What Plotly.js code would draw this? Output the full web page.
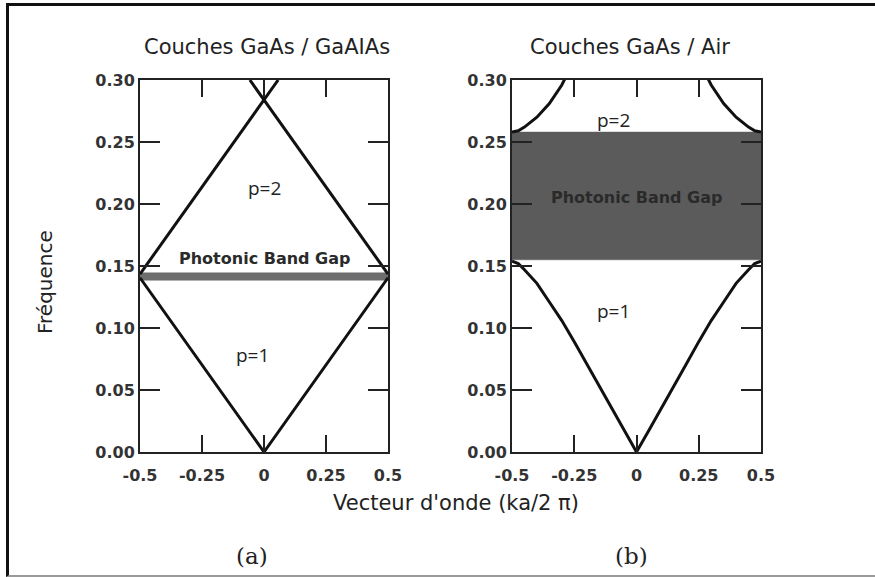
<!DOCTYPE html>
<html>
<head>
<meta charset="utf-8">
<script src="https://cdn.plot.ly/plotly-3.0.1.min.js"></script>
<style>
html,body{margin:0;padding:0;background:#fff;overflow:hidden;}
#wrap{position:relative;width:875px;height:577px;}
#chart{position:absolute;left:0;top:0;width:875px;height:577px;}
#frame{position:absolute;left:6px;top:3px;right:-5px;bottom:0px;border-top:3px solid #111;border-left:3px solid #111;border-bottom:2px solid #9a9a9a;pointer-events:none;}
</style>
</head>
<body>
<div id="wrap"><div id="chart"></div><div id="frame"></div></div>
<script>
// ---- data ----
const kRange = [-0.5, 0.5];
const xTicks = [-0.5, -0.25, 0, 0.25, 0.5];
const xTickText = ["-0.5", "-0.25", "0", "0.25", "0.5"];
const yTicks = [0, 0.05, 0.10, 0.15, 0.20, 0.25, 0.30];
const yTickText = ["0.00", "0.05", "0.10", "0.15", "0.20", "0.25", "0.30"];

// (a) GaAs / GaAlAs
const aBand1K = [-0.5, 0, 0.5];
const aBand1F = [0.1405, 0, 0.1405];
const aBand2LeftK = [-0.5, 0.057];
const aBand2LeftF = [0.1435, 0.30];
const aBand2RightK = [0.5, -0.057];
const aBand2RightF = [0.1435, 0.30];
const aGap = [0.1385, 0.1445];

// (b) GaAs / Air
const bBand1K = [-0.5, -0.475, -0.45, -0.4, -0.35, -0.3, -0.25, -0.2, -0.15, -0.1, -0.05, 0,
                 0.05, 0.1, 0.15, 0.2, 0.25, 0.3, 0.35, 0.4, 0.45, 0.475, 0.5];
const bBand1F = [0.154, 0.152, 0.147, 0.136, 0.121, 0.106, 0.089, 0.071, 0.053, 0.035, 0.0175, 0,
                 0.0175, 0.035, 0.053, 0.071, 0.089, 0.106, 0.121, 0.136, 0.147, 0.152, 0.154];
const bBand2LeftK = [-0.5, -0.475, -0.45, -0.4, -0.35, -0.3, -0.285];
const bBand2LeftF = [0.258, 0.259, 0.262, 0.270, 0.281, 0.296, 0.302];
const bBand2RightK = [0.5, 0.475, 0.45, 0.4, 0.35, 0.3, 0.285];
const bBand2RightF = [0.258, 0.259, 0.262, 0.270, 0.281, 0.296, 0.302];
const bGap = [0.155, 0.258];

const titleA = "Couches GaAs / GaAIAs";
const titleB = "Couches GaAs / Air";
const yTitle = "Fréquence";
const xTitle = "Vecteur d'onde (ka/2 π)";

// ---- drawing ----
const W = 875, H = 577;
const px = v => v / W;
const py = v => 1 - v / H;
const lineStyle = {color: '#111', width: 3};

function gapTrace(gap, xa, ya, color) {
  return {x: [kRange[0], kRange[1], kRange[1], kRange[0], kRange[0]],
          y: [gap[0], gap[0], gap[1], gap[1], gap[0]],
          xaxis: xa, yaxis: ya, mode: 'lines', fill: 'toself',
          fillcolor: color, line: {width: 0.5, color: color}, hoverinfo: 'skip'};
}
function band(k, f, xa, ya) {
  return {x: k, y: f, xaxis: xa, yaxis: ya, mode: 'lines', line: lineStyle, hoverinfo: 'skip'};
}

const traces = [
  gapTrace(aGap, 'x', 'y', '#6e6e6e'),
  band(aBand1K, aBand1F, 'x', 'y'),
  band(aBand2LeftK, aBand2LeftF, 'x', 'y'),
  band(aBand2RightK, aBand2RightF, 'x', 'y'),
  gapTrace(bGap, 'x2', 'y2', '#5b5b5b'),
  band(bBand1K, bBand1F, 'x2', 'y2'),
  band(bBand2LeftK, bBand2LeftF, 'x2', 'y2'),
  band(bBand2RightK, bBand2RightF, 'x2', 'y2')
];

const tickFont = {family: 'DejaVu Sans', size: 16, color: '#333', weight: 'bold'};
function xAxis(domain, anchor) {
  return {domain: domain, anchor: anchor, range: kRange, tickvals: xTicks, ticktext: xTickText,
          ticks: 'inside', ticklen: 17, tickwidth: 2, tickcolor: '#222', mirror: 'ticks',
          showline: true, linecolor: '#222', linewidth: 2, showgrid: false, zeroline: false,
          tickfont: tickFont, ticklabelstandoff: 8, fixedrange: true};
}
function yAxis(domain, anchor) {
  return {domain: domain, anchor: anchor, range: [0, 0.30], tickvals: yTicks, ticktext: yTickText,
          ticks: 'inside', ticklen: 20, tickwidth: 2, tickcolor: '#222', mirror: 'ticks',
          showline: true, linecolor: '#222', linewidth: 2, showgrid: false, zeroline: false,
          tickfont: tickFont, ticklabelstandoff: 0, fixedrange: true};
}

const pFont = {family: 'Open Sans', size: 19, color: '#222'};
const gapFont = {family: 'DejaVu Sans', size: 16, color: '#2a2a2a', weight: 'bold'};
const titleFont = {family: 'DejaVu Sans', size: 21, color: '#222'};

const annotations = [
  {text: titleA, xref: 'paper', yref: 'paper', x: px(267), y: py(47), showarrow: false, font: titleFont, xanchor: 'center', yanchor: 'middle'},
  {text: titleB, xref: 'paper', yref: 'paper', x: px(630), y: py(47), showarrow: false, font: titleFont, xanchor: 'center', yanchor: 'middle'},
  {text: yTitle, xref: 'paper', yref: 'paper', x: px(45), y: py(282), textangle: -90, showarrow: false, font: {family: 'DejaVu Sans', size: 20, color: '#222'}, xanchor: 'center', yanchor: 'middle'},
  {text: xTitle, xref: 'paper', yref: 'paper', x: px(456), y: py(503), showarrow: false, font: titleFont, xanchor: 'center', yanchor: 'middle'},
  {text: '(a)', xref: 'paper', yref: 'paper', x: px(252), y: py(556), showarrow: false, font: {family: 'DejaVu Serif', size: 23, color: '#222'}, xanchor: 'center', yanchor: 'middle'},
  {text: '(b)', xref: 'paper', yref: 'paper', x: px(631), y: py(556), showarrow: false, font: {family: 'DejaVu Serif', size: 23, color: '#222'}, xanchor: 'center', yanchor: 'middle'},
  {text: 'p=2', xref: 'x', yref: 'y', x: 0, y: 0.213, showarrow: false, font: pFont},
  {text: 'p=1', xref: 'x', yref: 'y', x: -0.048, y: 0.078, showarrow: false, font: pFont},
  {text: 'Photonic Band Gap', xref: 'x', yref: 'y', x: 0, y: 0.156, showarrow: false, font: gapFont},
  {text: 'p=2', xref: 'x2', yref: 'y2', x: -0.093, y: 0.268, showarrow: false, font: pFont},
  {text: 'p=1', xref: 'x2', yref: 'y2', x: -0.093, y: 0.114, showarrow: false, font: pFont},
  {text: 'Photonic Band Gap', xref: 'x2', yref: 'y2', x: 0, y: 0.2055, showarrow: false, font: gapFont}
];

const layout = {
  width: W, height: H,
  margin: {l: 0, r: 0, t: 0, b: 0, pad: 0},
  paper_bgcolor: 'rgba(0,0,0,0)', plot_bgcolor: 'rgba(0,0,0,0)',
  showlegend: false,
  xaxis: xAxis([px(140), px(388)], 'y'),
  yaxis: yAxis([py(452), py(80)], 'x'),
  xaxis2: xAxis([px(512), px(761)], 'y2'),
  yaxis2: yAxis([py(452), py(80)], 'x2'),
  annotations: annotations
};

Plotly.newPlot('chart', traces, layout, {displayModeBar: false, staticPlot: true});
</script>
</body>
</html>
